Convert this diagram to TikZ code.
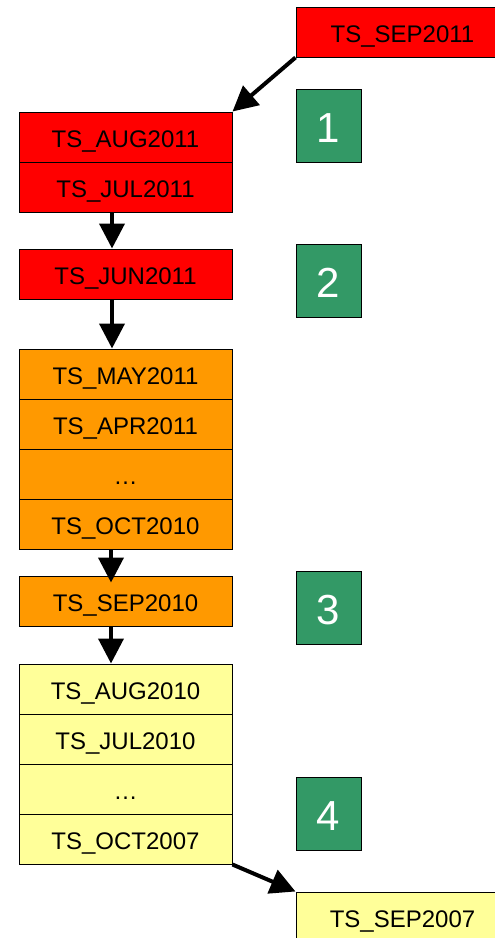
\documentclass[tikz,border=0pt]{standalone}
\usepackage{fontspec}
\setmainfont{Liberation Sans}
\usetikzlibrary{arrows.meta}
\definecolor{cellred}{HTML}{FF0000}
\definecolor{cellorange}{HTML}{FF9900}
\definecolor{cellyellow}{HTML}{FFFF99}
\definecolor{stepgreen}{HTML}{339966}
\begin{document}
\begin{tikzpicture}[x=1pt,y=-1pt,
  cell/.style={draw=black, line width=1pt, inner sep=0pt,
    minimum width=213pt, minimum height=50pt,
    text height=20pt, text depth=0pt,
    font=\fontsize{24}{28}\selectfont},
  redcell/.style={cell, fill=cellred},
  orangecell/.style={cell, fill=cellorange},
  yellowcell/.style={cell, fill=cellyellow},
  stepbox/.style={draw=black, line width=1pt, fill=stepgreen, inner sep=0pt,
    minimum width=65pt, minimum height=73pt, text=white,
    text height=33pt, text depth=0pt,
    font=\fontsize{42}{46}\selectfont},
  link/.style={line width=4pt, -{Triangle[length=25pt,width=25pt]}}]
\useasboundingbox (0,0) rectangle (495,938);
\clip (0,0) rectangle (495,938);
\fill[white] (0,0) rectangle (495,938);

% stacked monthly partitions
\node[redcell] (sep11) at (402.5,32) {TS\_SEP2011};
\node[redcell] (aug11) at (125.5,137) {TS\_AUG2011};
\node[redcell] (jul11) at (125.5,187) {TS\_JUL2011};
\node[redcell] (jun11) at (125.5,274) {TS\_JUN2011};
\node[orangecell] (may11) at (125.5,374) {TS\_MAY2011};
\node[orangecell] (apr11) at (125.5,424) {TS\_APR2011};
\node[orangecell] (dotsa) at (125.5,474) {…};
\node[orangecell] (oct10) at (125.5,524) {TS\_OCT2010};
\node[orangecell] (sep10) at (125.5,601) {TS\_SEP2010};
\node[yellowcell] (aug10) at (125.5,689) {TS\_AUG2010};
\node[yellowcell] (jul10) at (125.5,739) {TS\_JUL2010};
\node[yellowcell] (dotsb) at (125.5,789) {…};
\node[yellowcell] (oct07) at (125.5,839) {TS\_OCT2007};
\node[yellowcell] (sep07) at (402.5,917) {TS\_SEP2007};

% numbered steps
\node[stepbox] (g1) at (328.5,125.5) {1};
\node[stepbox] (g2) at (328.5,280.5) {2};
\node[stepbox] (g3) at (328.5,608) {3};
\node[stepbox] (g4) at (328.5,813.5) {4};

% connectors
\draw[link] (sep11.south west) -- (aug11.north east);
\draw[link] ([xshift=-13.5pt]jul11.south) -- ([xshift=-13.5pt]jun11.north);
\draw[link] ([xshift=-13.5pt]jun11.south) -- ([xshift=-13.5pt]may11.north);
\draw[link] ([xshift=-14.5pt]oct10.south) -- ([xshift=-14.5pt,yshift=-7pt]sep10.north);
\draw[link] ([xshift=-14.5pt]sep10.south) -- ([xshift=-14.5pt]aug10.north);
\draw[link] (oct07.south east) -- (sep07.north west);
\end{tikzpicture}
\end{document}
